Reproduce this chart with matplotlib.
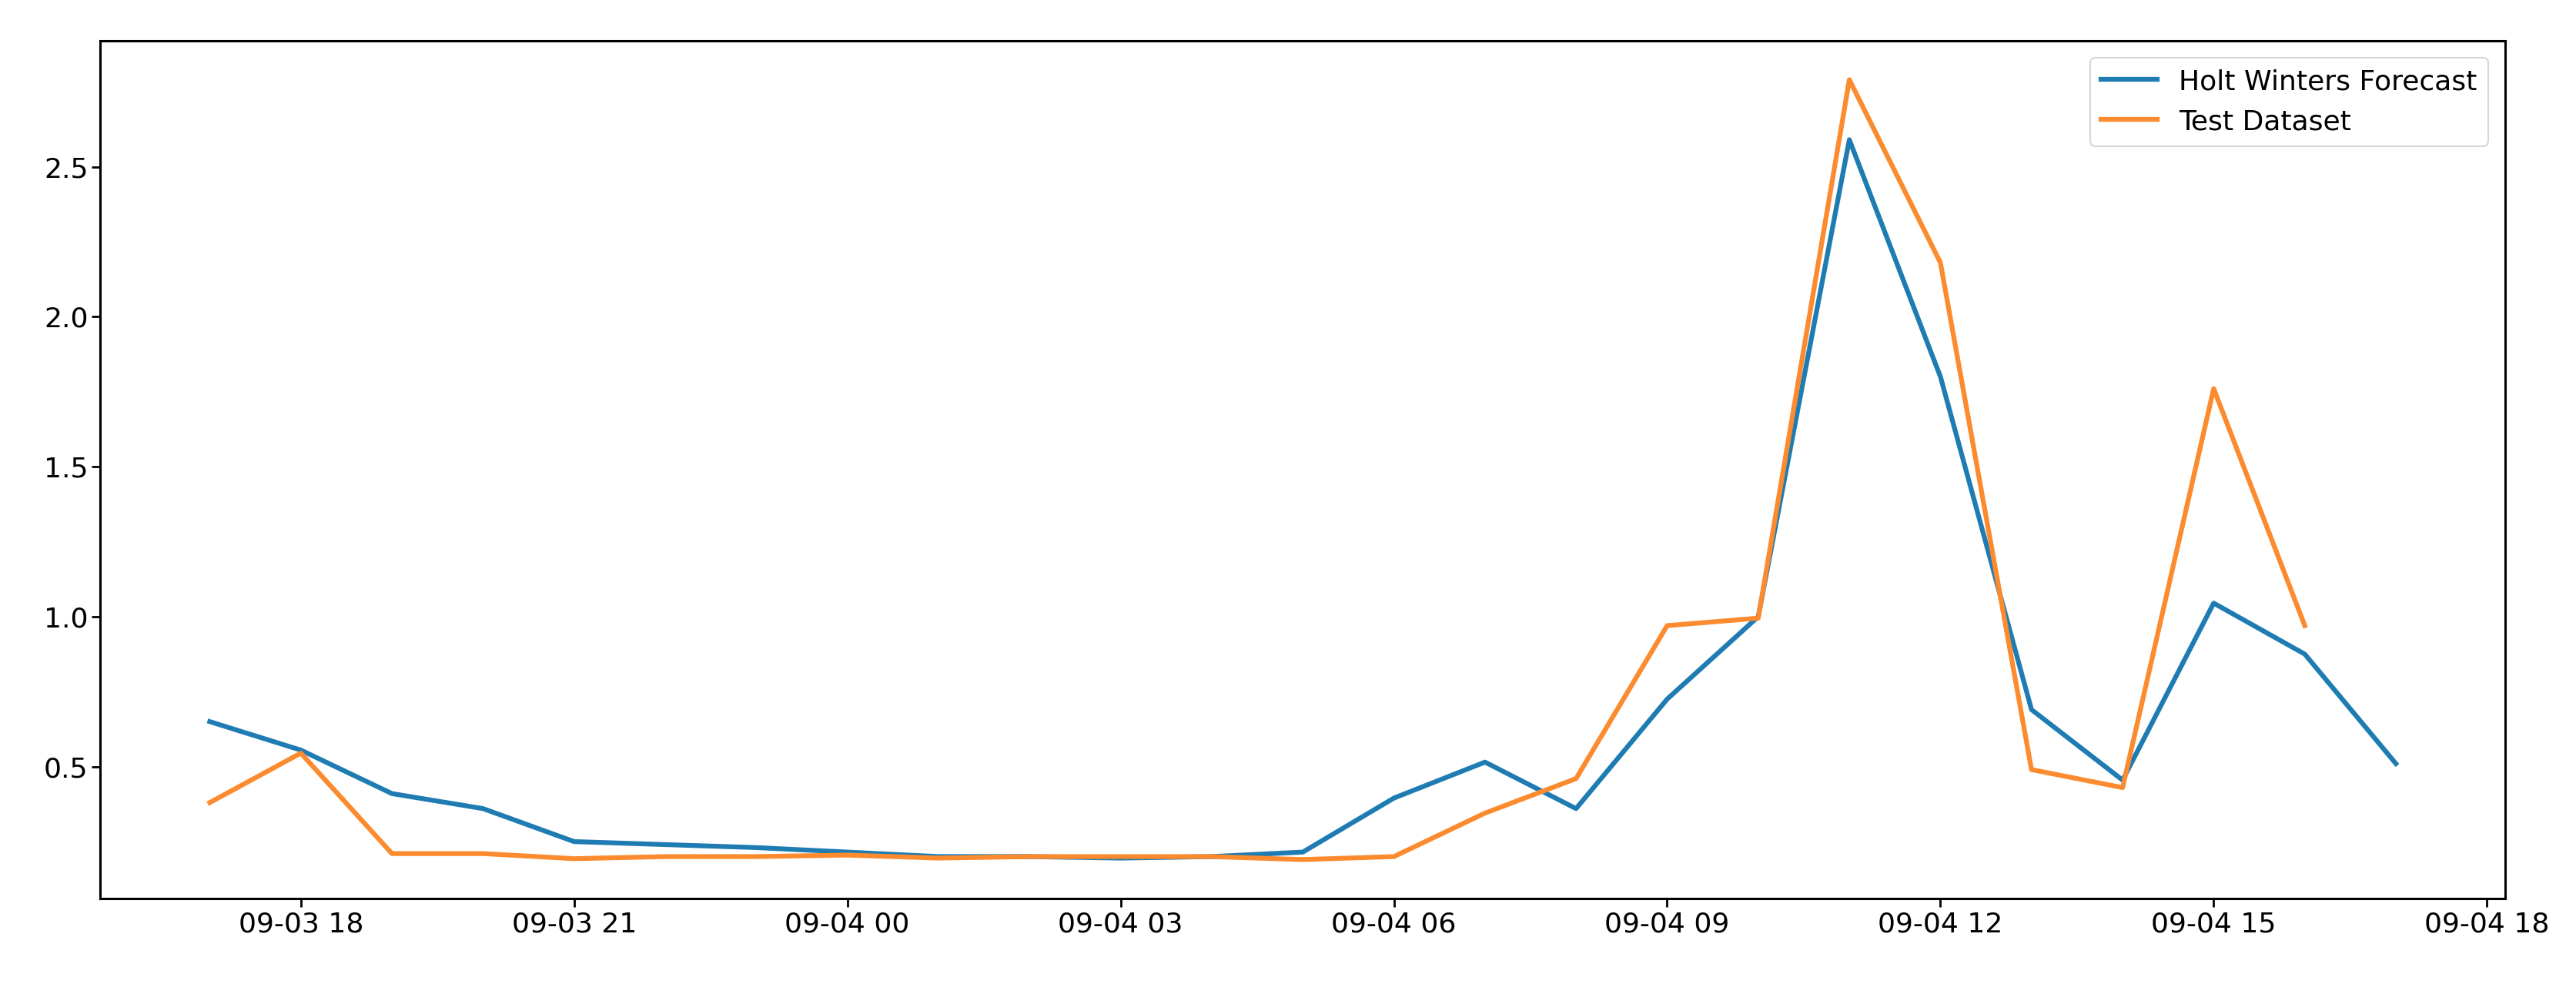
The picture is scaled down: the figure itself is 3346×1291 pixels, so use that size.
import matplotlib
matplotlib.use("Agg")
import matplotlib.pyplot as plt
import matplotlib.dates as mdates
import pandas as pd

# hourly timestamps
forecast_times = pd.date_range("2020-09-03 17:00", "2020-09-04 17:00", freq="h")
test_times = pd.date_range("2020-09-03 17:00", "2020-09-04 16:00", freq="h")

# Holt Winters forecast values
forecast_vals = [0.65, 0.555, 0.41, 0.36, 0.25, 0.24, 0.23, 0.215, 0.20, 0.20,
                 0.195, 0.20, 0.215, 0.395, 0.515, 0.36, 0.725, 1.00, 2.59, 1.80,
                 0.69, 0.455, 1.045, 0.875, 0.51]

# test dataset values
test_vals = [0.38, 0.545, 0.21, 0.21, 0.193, 0.20, 0.20, 0.205, 0.195, 0.20,
             0.20, 0.20, 0.19, 0.20, 0.345, 0.46, 0.97, 0.995, 2.79, 2.18,
             0.49, 0.43, 1.76, 0.97]

plt.rcParams['font.family'] = ['DejaVu Sans']

fig = plt.figure(figsize=(33.46, 12.91), dpi=100)
ax = fig.add_axes([0.039, 0.096, 0.9335, 0.863])

ax.plot(forecast_times, forecast_vals, color='#1f7cb2', linewidth=4.5, label='Holt Winters Forecast')
ax.plot(test_times, test_vals, color='#fb8b2e', linewidth=4.5, label='Test Dataset')

ax.xaxis.set_major_locator(mdates.HourLocator(byhour=range(0, 24, 3)))
ax.xaxis.set_major_formatter(mdates.DateFormatter('%m-%d %H'))
ax.set_yticks([0.5, 1.0, 1.5, 2.0, 2.5])

ax.tick_params(labelsize=26, length=8, width=2)
for sp in ax.spines.values():
    sp.set_linewidth(2.2)

leg = ax.legend(loc='upper right', fontsize=26, handlelength=2.0, borderaxespad=0.6)
leg.get_frame().set_linewidth(1.5)

fig.savefig("out.png", dpi=100)
